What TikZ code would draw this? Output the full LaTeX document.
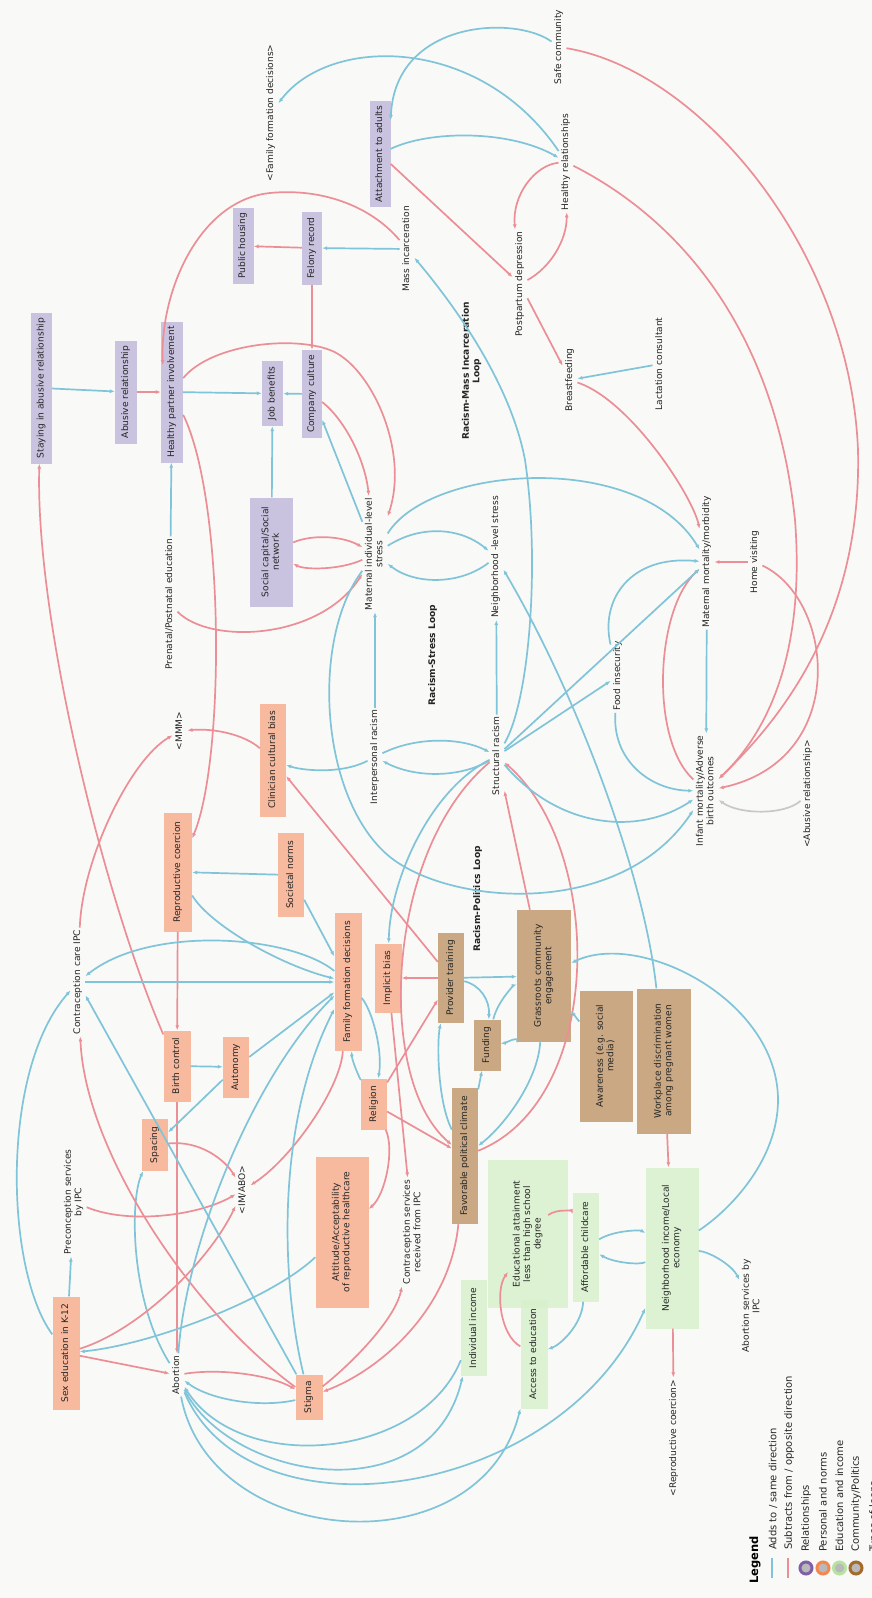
\documentclass[tikz,border=0pt]{standalone}
\usepackage{fontspec}
\setmainfont{DejaVu Sans}
\usepackage{graphicx}
\usetikzlibrary{arrows.meta,calc}
\definecolor{bgc}{HTML}{F9F9F7}
\definecolor{cblue}{HTML}{7FC4D8}
\definecolor{cred}{HTML}{EC8E96}
\definecolor{cgray}{HTML}{C8C8C8}
\definecolor{fpur}{HTML}{C9C3DF}
\definecolor{fora}{HTML}{F7BA9F}
\definecolor{fbro}{HTML}{C9A883}
\definecolor{fgre}{HTML}{D8F1CC}
\definecolor{rpur}{HTML}{7E5FA8}
\definecolor{rora}{HTML}{F2884F}
\definecolor{rgre}{HTML}{B7E3A2}
\definecolor{rbro}{HTML}{A36A2C}
\newcommand{\rtx}[1]{\rotatebox{90}{\begin{tabular}{@{}c@{}}#1\end{tabular}}}
\begin{document}
\begin{tikzpicture}[x=1pt,y=1pt,
  txt/.style={inner sep=2pt, font=\fontsize{9.1}{10.5}\selectfont, text=black!85},
  sz/.style 2 args={minimum width=#1, minimum height=#2},
  relb/.style={txt, fill=fpur, inner sep=0pt},
  perb/.style={txt, fill=fora, inner sep=0pt},
  comb/.style={txt, fill=fbro, inner sep=0pt},
  edub/.style={txt, fill=fgre, fill opacity=0.85, text opacity=1, inner sep=0pt},
  loopl/.style={txt, font=\fontsize{9.1}{10.5}\selectfont\bfseries},
  addl/.style={draw=cblue, line width=1.7pt, -{Latex[length=5pt,width=4pt]}},
  subl/.style={draw=cred, line width=1.7pt, -{Latex[length=5pt,width=4pt]}},
  grl/.style={draw=cgray, line width=1.7pt, -{Latex[length=5pt,width=4pt]}},
  legt/.style={font=\fontsize{10}{12}\selectfont, inner sep=0pt, anchor=south, text=black!85},
]
\fill[bgc] (0,0) rectangle (872,-1598);
\useasboundingbox (0,0) rectangle (872,-1598);

% ---------- Relationships
\node[relb,sz={21}{151}] (stay) at (41.5,-388) {\rtx{Staying in abusive relationship}};
\node[relb,sz={22}{103}] (abus) at (126,-392) {\rtx{Abusive relationship}};
\node[relb,sz={22}{141}] (hpi) at (172,-392) {\rtx{Healthy partner involvement}};
\node[relb,sz={21}{65}] (job) at (272.5,-393.5) {\rtx{Job benefits}};
\node[relb,sz={20}{88}] (comp) at (312,-394) {\rtx{Company culture}};
\node[relb,sz={20}{73}] (fel) at (312,-248) {\rtx{Felony record}};
\node[relb,sz={21}{76}] (pubh) at (243,-246) {\rtx{Public housing}};
\node[relb,sz={21}{106}] (att) at (380,-154) {\rtx{Attachment to adults}};
\node[relb,sz={43}{109}] (soc) at (271.5,-552) {\rtx{Social capital/Social\\network}};
% ---------- Personal and norms
\node[perb,sz={26}{113}] (clin) at (273,-760) {\rtx{Clinician cultural bias}};
\node[perb,sz={28}{119}] (rc) at (178,-872) {\rtx{Reproductive coercion}};
\node[perb,sz={26}{84}] (socn) at (291,-875) {\rtx{Societal norms}};
\node[perb,sz={27}{71}] (bc) at (177,-1066) {\rtx{Birth control}};
\node[perb,sz={26}{61}] (aut) at (236,-1067) {\rtx{Autonomy}};
\node[perb,sz={26}{52}] (spac) at (155,-1145) {\rtx{Spacing}};
\node[perb,sz={27}{138}] (ffd) at (348,-982) {\rtx{Family formation decisions}};
\node[perb,sz={27}{69}] (ib) at (388,-978) {\rtx{Implicit bias}};
\node[perb,sz={26}{51}] (rel) at (374,-1104) {\rtx{Religion}};
\node[perb,sz={53}{151}] (attd) at (342,-1232) {\rtx{Attitude/Acceptability\\of reproductive healthcare}};
\node[perb,sz={27}{113}] (sexed) at (66,-1353) {\rtx{Sex education in K-12}};
\node[perb,sz={27}{45}] (stig) at (309,-1397) {\rtx{Stigma}};
% ---------- Community / Politics
\node[comb,sz={26}{90}] (pt) at (451,-978) {\rtx{Provider training}};
\node[comb,sz={54}{132}] (grass) at (544,-976) {\rtx{Grassroots community\\engagement}};
\node[comb,sz={27}{51}] (fund) at (487,-1045) {\rtx{Funding}};
\node[comb,sz={26}{136}] (fpc) at (465,-1156) {\rtx{Favorable political climate}};
\node[comb,sz={53}{131}] (aware) at (606,-1056) {\rtx{Awareness (e.g. social\\media)}};
\node[comb,sz={54}{145}] (work) at (664,-1061) {\rtx{Workplace discrimination\\among pregnant women}};
% ---------- Education and income
\node[edub,sz={80}{148}] (edu) at (528,-1234) {\rtx{Educational attainment\\less than high school\\degree}};
\node[edub,sz={26}{109}] (child) at (586,-1247) {\rtx{Affordable childcare}};
\node[edub,sz={26}{96}] (inc) at (474,-1328) {\rtx{Individual income}};
\node[edub,sz={27}{109}] (acc) at (534,-1354) {\rtx{Access to education}};
\node[edub,sz={53}{161}] (ni) at (672,-1248) {\rtx{Neighborhood income/Local\\economy}};
% ---------- plain variables
\node[txt] (ffdx) at (271,-113) {\rtx{<Family formation decisions>}};
\node[txt] (safe) at (559,-47) {\rtx{Safe community}};
\node[txt] (hrel) at (566,-162) {\rtx{Healthy relationships}};
\node[txt] (mass) at (407,-249) {\rtx{Mass incarceration}};
\node[txt] (ppd) at (520,-284) {\rtx{Postpartum depression}};
\node[txt] (bf) at (570,-380) {\rtx{Breastfeeding}};
\node[txt] (lac) at (660,-364) {\rtx{Lactation consultant}};
\node[loopl] (loop1) at (472,-371) {\rtx{Racism-Mass Incarceration\\Loop}};
\node[txt] (pre) at (170,-604) {\rtx{Prenatal/Postnatal education}};
\node[txt] (mstress) at (375,-554) {\rtx{Maternal individual-level\\stress}};
\node[txt] (nstress) at (496,-557) {\rtx{Neighborhood -level stress}};
\node[loopl] (loop2) at (433,-655) {\rtx{Racism-Stress Loop}};
\node[txt] (ir) at (375,-757) {\rtx{Interpersonal racism}};
\node[txt] (sr) at (497,-756) {\rtx{Structural racism}};
\node[txt] (food) at (618,-676) {\rtx{Food insecurity}};
\node[txt] (mm) at (707,-562) {\rtx{Maternal mortality/morbidity}};
\node[txt] (hv) at (755,-562) {\rtx{Home visiting}};
\node[txt] (im) at (706,-791) {\rtx{Infant mortality/Adverse\\birth outcomes}};
\node[txt] (abx) at (808,-794) {\rtx{<Abusive relationship>}};
\node[txt] (mmm) at (180,-731) {\rtx{<MMM>}};
\node[txt] (cci) at (78,-982) {\rtx{Contraception care IPC}};
\node[loopl] (loop3) at (478,-899) {\rtx{Racism-Politics Loop}};
\node[txt] (pcs) at (74,-1202) {\rtx{Preconception services\\by IPC}};
\node[txt] (imabo) at (243,-1190) {\rtx{<IM/ABO>}};
\node[txt] (csr) at (413,-1232) {\rtx{Contraception services\\received from IPC}};
\node[txt] (abort) at (177,-1375) {\rtx{Abortion}};
\node[txt] (asi) at (752,-1306) {\rtx{Abortion services by\\IPC}};
\node[txt] (rcx) at (674,-1438) {\rtx{<Reproductive coercion>}};

% ---------- top part
\draw[addl] (hrel) .. controls (480,-35) and (330,-35) .. (ffdx);
\draw[addl] (safe) .. controls (515,-15) and (395,-20) .. ($(att.east)+(0,34)$);
\draw[addl] (att) .. controls (430,-130) and (510,-130) .. (hrel);
\draw[subl] (att) -- (ppd);
\draw[subl] (hrel) .. controls (535,-165) and (512,-195) .. (ppd);
\draw[subl] (ppd) .. controls (550,-268) and (567,-240) .. (hrel);
\draw[subl] (ppd) -- (bf);
\draw[addl] (lac) -- (bf);
\draw[subl] (safe) .. controls (700,-70) and (850,-250) .. (858,-450) .. controls (862,-620) and (780,-720) .. (im);
\draw[subl] (hrel) .. controls (680,-220) and (775,-330) .. (795,-520) .. controls (805,-650) and (770,-730) .. (im);
\draw[subl] (hv) -- (mm);
\draw[addl] (mm) -- (im);
\draw[subl] (im) .. controls (650,-740) and (655,-610) .. (mm);
\draw[subl] (hv) .. controls (835,-600) and (850,-760) .. (im);
\draw[grl] (abx) .. controls (785,-815) and (740,-815) .. (im);
\draw[subl] (bf) .. controls (630,-400) and (692,-495) .. (mm);
\draw[addl] (food) .. controls (600,-600) and (630,-555) .. (mm);
\draw[addl] (food) .. controls (612,-760) and (650,-790) .. (im);
\draw[addl] (sr) -- (food);
\draw[addl] (sr) -- (mm);
\draw[addl] (mstress) .. controls (430,-465) and (640,-450) .. (mm);
\draw[addl] (sr) -- (nstress);
\draw[addl] (sr) .. controls (460,-778) and (415,-778) .. (ir);
\draw[addl] (ir) .. controls (415,-737) and (460,-737) .. (sr);
\draw[addl] (ir) -- (mstress);
\draw[addl] (mstress) .. controls (420,-525) and (460,-527) .. (nstress);
\draw[addl] (nstress) .. controls (460,-585) and (415,-585) .. (mstress);
\draw[addl] (mstress) -- (comp);
\draw[subl] (comp) .. controls (345,-420) and (365,-460) .. (mstress);
\draw[subl] (hpi) .. controls (210,-345) and (290,-335) .. (330,-350) .. controls (370,-365) and (410,-450) .. (mstress);
\draw[subl] (soc) .. controls (310,-535) and (340,-535) .. (mstress);
\draw[subl] (mstress) .. controls (340,-570) and (305,-570) .. (soc);
\draw[addl] (soc) -- (job);
\draw[subl] (pre) .. controls (210,-645) and (320,-640) .. (mstress);
\draw[addl] (pre) -- (hpi);
\draw[addl] (stay) -- (abus);
\draw[subl] (abus) -- (hpi);
\draw[addl] (hpi) -- (job);
\draw[addl] (comp) -- (job);
\draw[subl] (fel) -- (comp);
\draw[subl] (fel) -- (pubh);
\draw[addl] (mass) -- (fel);
\draw[subl] (mass) .. controls (370,-205) and (320,-188) .. (270,-193) .. controls (200,-200) and (160,-290) .. ($(hpi.west)+(2,27)$);
\draw[addl] (sr) .. controls (530,-700) and (540,-560) .. (525,-460) .. controls (510,-380) and (450,-300) .. (mass);

% ---------- middle part
\draw[addl] (ir) .. controls (340,-775) and (300,-770) .. (clin);
\draw[subl] (clin) .. controls (245,-735) and (215,-728) .. (mmm);
\draw[subl] (pt) -- (clin);
\draw[subl] (cci) .. controls (82,-860) and (130,-760) .. (mmm);
\draw[subl] (bc) .. controls (105,-900) and (35,-620) .. (stay);
\draw[subl] (hpi) .. controls (225,-500) and (225,-760) .. (rc);
\draw[subl] (rc) -- (bc);
\draw[subl] (bc) -- (abort);
\draw[addl] (socn) -- (rc);
\draw[addl] (socn) -- (ffd);
\draw[addl] (rc) .. controls (210,-925) and (280,-965) .. (ffd);
\draw[addl] (cci) -- (ffd);
\draw[addl] (ffd) .. controls (290,-935) and (150,-925) .. (cci);
\draw[addl] (bc) -- (aut);
\draw[addl] (aut) -- (ffd);
\draw[addl] (aut) -- (spac);
\draw[addl] (abort) .. controls (130,-1300) and (130,-1200) .. (spac);
\draw[subl] (spac) .. controls (200,-1140) and (225,-1160) .. (imabo);
\draw[subl] (ffd) .. controls (340,-1090) and (290,-1160) .. (imabo);
\draw[subl] (sexed) .. controls (140,-1330) and (210,-1260) .. (imabo);
\draw[subl] (pcs) .. controls (130,-1225) and (200,-1215) .. (imabo);
\draw[subl] (sexed) -- (abort);
\draw[addl] (sexed) -- (pcs);
\draw[addl] (sexed) .. controls (5,-1270) and (0,-1070) .. (cci);
\draw[addl] (attd) .. controls (270,-1300) and (150,-1345) .. (sexed);
\draw[subl] (abort) .. controls (220,-1368) and (270,-1375) .. (stig);
\draw[addl] (stig) .. controls (260,-1408) and (210,-1400) .. (abort);
\draw[subl] (stig) .. controls (190,-1310) and (85,-1150) .. (cci);
\draw[addl] (stig) -- (cci);
\draw[addl] (abort) .. controls (185,-1250) and (250,-1080) .. (ffd);
\draw[addl] (stig) .. controls (283,-1290) and (273,-1130) .. (ffd);
\draw[subl] (fpc) .. controls (450,-1310) and (380,-1370) .. (stig);
\draw[subl] (stig) .. controls (350,-1365) and (395,-1320) .. (csr);
\draw[subl] (ib) -- (csr);
\draw[subl] (rel) .. controls (395,-1150) and (385,-1195) .. (attd);
\draw[addl] (ffd) .. controls (372,-1010) and (383,-1050) .. (rel);
\draw[addl] (rel) .. controls (358,-1075) and (352,-1060) .. (ffd);
\draw[subl] (rel) -- (fpc);
\draw[subl] (rel) -- (pt);
\draw[subl] (pt) -- (ib);
\draw[addl] (pt) -- (grass);
\draw[addl] (pt) .. controls (480,-985) and (490,-1000) .. (fund);
\draw[addl] (fund) .. controls (498,-1000) and (515,-985) .. (grass);
\draw[addl] (grass) .. controls (520,-1035) and (505,-1043) .. (fund);
\draw[addl] (fpc) -- (fund);
\draw[addl] (fpc) .. controls (437,-1100) and (437,-1040) .. (pt);
\draw[addl] (grass) .. controls (538,-1080) and (505,-1125) .. (fpc);
\draw[subl] (grass) -- (sr);
\draw[subl] (sr) .. controls (385,-850) and (375,-1080) .. (fpc);
\draw[subl] (fpc) .. controls (605,-1100) and (605,-850) .. (sr);
\draw[addl] (sr) .. controls (430,-790) and (390,-880) .. (ib);
\draw[addl] (sr) .. controls (560,-830) and (640,-835) .. (im);
\draw[addl] (mstress) .. controls (310,-640) and (320,-800) .. (390,-857) .. controls (450,-905) and (620,-920) .. (im);
\draw[addl] (work) .. controls (645,-880) and (580,-700) .. (nstress);
\draw[subl] (work) -- (ni);
\draw[addl] (ni) .. controls (730,-1210) and (778,-1160) .. (778,-1100) .. controls (778,-1000) and (640,-930) .. (grass);
\draw[addl] (aware) -- (grass);

% ---------- bottom part
\draw[addl] (child) .. controls (615,-1230) and (640,-1230) .. (ni);
\draw[addl] (ni) .. controls (640,-1265) and (615,-1263) .. (child);
\draw[addl] (ni) .. controls (710,-1252) and (732,-1265) .. (asi);
\draw[subl] (ni) -- (rcx);
\draw[subl] ($(edu.east)+(-20,19)$) .. controls (558,-1208) and (572,-1212) .. (child);
\draw[subl] (acc) .. controls (500,-1335) and (495,-1290) .. ($(edu.center)+(-20,-38)$);
\draw[addl] (child) .. controls (582,-1325) and (560,-1345) .. (acc);
\draw[addl] (inc) .. controls (420,-1460) and (240,-1475) .. (abort);
\draw[addl] (abort) .. controls (230,-1480) and (430,-1515) .. (inc);
\draw[addl] (abort) .. controls (250,-1545) and (560,-1500) .. (ni);
\draw[addl] (abort) .. controls (210,-1550) and (480,-1570) .. (acc);

% ---------- legend
\node[font=\fontsize{11.5}{13}\selectfont\bfseries, inner sep=0pt] (leg) at (755,-1560) {\rotatebox{90}{Legend}};
\draw[cblue, line width=2pt] (772,-1558) -- (772,-1578);
\node[legt] (l1) at (773,-1550) {\rotatebox{90}{Adds to / same direction}};
\draw[cred, line width=2pt] (788,-1558) -- (788,-1578);
\node[legt] (l2) at (789,-1550) {\rotatebox{90}{Subtracts from / opposite direction}};
\draw[rpur, line width=3pt, fill=gray!55] (806,-1568) circle (6);
\node[legt] (l3) at (806,-1552) {\rotatebox{90}{Relationships}};
\draw[rora, line width=3pt, fill=gray!55] (823,-1568) circle (6);
\node[legt] (l4) at (823,-1552) {\rotatebox{90}{Personal and norms}};
\draw[rgre, line width=3pt, fill=gray!55] (839.5,-1568) circle (6);
\node[legt] (l5) at (839.5,-1552) {\rotatebox{90}{Education and income}};
\draw[rbro, line width=3pt, fill=gray!55] (856,-1568) circle (6);
\node[legt] (l6) at (856,-1552) {\rotatebox{90}{Community/Politics}};
\node[legt] (l7) at (874,-1552) {\rotatebox{90}{Types of loops}};
\end{tikzpicture}
\end{document}
